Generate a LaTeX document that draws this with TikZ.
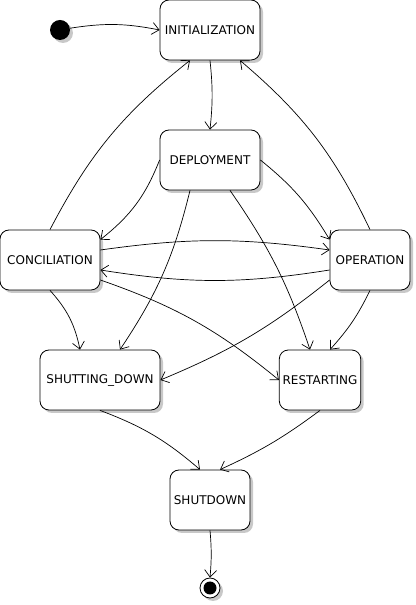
\documentclass[tikz,border=0pt]{standalone}
\usepackage{fontspec}
\setmainfont{DejaVu Sans}
\usepackage{tikz}
\usetikzlibrary{arrows.meta, shadows}
\usepackage{xcolor}
\definecolor{shade}{HTML}{C8C8C8}
\tikzset{
  state/.style={rectangle, rounded corners=9pt, draw=black, fill=white,
                line width=0.8pt, minimum height=60pt,
                font=\fontsize{12}{14}\selectfont,
                drop shadow={shadow xshift=3pt, shadow yshift=-3pt,
                             fill=shade, opacity=1}},
  initial/.style={circle, fill=black, minimum size=20pt, inner sep=0pt,
                  drop shadow={shadow xshift=3pt, shadow yshift=-3pt,
                               fill=shade, opacity=1}},
  final/.style={circle, draw=black, fill=white, line width=0.8pt,
                minimum size=20pt, inner sep=0pt,
                drop shadow={shadow xshift=3pt, shadow yshift=-3pt,
                             fill=shade, opacity=1}},
  arrow/.style={-{Straight Barb[length=7pt, width=12pt]}, line width=0.7pt},
}

\begin{document}
\begin{tikzpicture}[x=1pt, y=1pt]
  \useasboundingbox (0,0) rectangle (415,605);

  %% States
  \node[initial] (start) at (60,575) {};
  \node[state, minimum width=100pt] (init) at (210,575) {INITIALIZATION};
  \node[state, minimum width=100pt] (deploy) at (210,445) {DEPLOYMENT};
  \node[state, minimum width=100pt] (conc) at (50,345) {CONCILIATION};
  \node[state, minimum width=80pt] (oper) at (370,345) {OPERATION};
  \node[state, minimum width=120pt] (shutting) at (100,225) {SHUTTING\_DOWN};
  \node[state, minimum width=80pt] (restart) at (320,225) {RESTARTING};
  \node[state, minimum width=80pt] (shutdown) at (210,105) {SHUTDOWN};
  \node[final] (stop) at (210,17) {};
  \fill (stop) circle (6.5pt);

  %% Transitions
  \draw[arrow] (start) to[bend left=10] (init.west);
  \draw[arrow] (init.south) to[bend left=6] (deploy.north);
  \draw[arrow] (conc.north) to[bend left=12] ([xshift=-20pt]init.south);
  \draw[arrow] (oper.north) to[bend right=12] ([xshift=30pt]init.south);
  \draw[arrow] (deploy.west) to[bend left=15] ([yshift=-10pt]conc.north east);
  \draw[arrow] (deploy.east) to[bend left=10] ([yshift=-10pt]oper.north west);
  \draw[arrow] ([yshift=10pt]conc.east) to[bend left=8] ([yshift=10pt]oper.west);
  \draw[arrow] ([yshift=-10pt]oper.west) to[bend left=9] ([yshift=-10pt]conc.east);
  \draw[arrow] ([xshift=-20pt]deploy.south) to[bend left=10] ([xshift=20pt]shutting.north);
  \draw[arrow] ([xshift=20pt]deploy.south) to[bend left=8] ([xshift=-10pt]restart.north);
  \draw[arrow] (conc.south) to[bend left=15] ([xshift=-20pt]shutting.north);
  \draw[arrow] ([yshift=-20pt]conc.east) to[bend left=10] (restart.west);
  \draw[arrow] ([yshift=-20pt]oper.west) to[bend left=8] (shutting.east);
  \draw[arrow] (oper.south) to[bend left=8] ([xshift=10pt]restart.north);
  \draw[arrow] (shutting.south) to[bend left=10] ([xshift=-10pt]shutdown.north);
  \draw[arrow] (restart.south) to[bend left=6] ([xshift=10pt]shutdown.north);
  \draw[arrow] (shutdown.south) to[bend left=5] (stop.north);
\end{tikzpicture}
\end{document}
